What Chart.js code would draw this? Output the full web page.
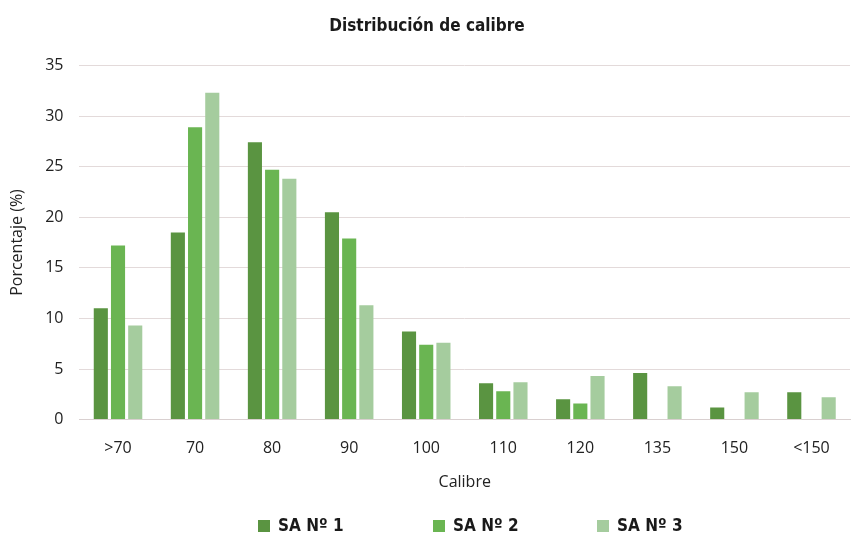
<!DOCTYPE html>
<html><head><meta charset="utf-8">
<script src="https://cdn.jsdelivr.net/npm/chart.js@4/dist/chart.umd.min.js"></script>
<style>html,body{margin:0;padding:0;background:#fff}#wrap{width:853px;height:538px;position:relative}
#leg{position:absolute;left:0;top:514px;width:853px;height:22px;font:bold 17px "DejaVu Sans Condensed","DejaVu Sans",sans-serif;color:#1a1a1a}
#leg span.it{position:absolute;top:0;white-space:nowrap;line-height:22px}
#leg span.bx{display:inline-block;width:12px;height:12px;margin-right:8px;vertical-align:-1px}
</style>
</head><body><div id="wrap"><canvas id="c" width="853" height="538"></canvas><div id="leg"></div></div>
<script>
const categories = ['>70','70','80','90','100','110','120','135','150','<150'];
const sa1 = [11.0, 18.5, 27.4, 20.5, 8.7, 3.6, 2.0, 4.6, 1.2, 2.7];
const sa2 = [17.2, 28.9, 24.7, 17.9, 7.4, 2.8, 1.6, 0, 0, 0];
const sa3 = [9.3, 32.3, 23.8, 11.3, 7.6, 3.7, 4.3, 3.3, 2.7, 2.2];
const seriesNames = ['SA Nº 1','SA Nº 2','SA Nº 3'];
const yTicks = [0,5,10,15,20,25,30,35];
const colors = ['#5a9441','#6ab552','#a5cc9e'];
const tickFont = {family:'"Open Sans", "Noto Sans", sans-serif', size:16};
const chart = new Chart(document.getElementById('c'), {
  type:'bar',
  data:{labels:categories, datasets:[
    {label:seriesNames[0], data:sa1, backgroundColor:colors[0]},
    {label:seriesNames[1], data:sa2, backgroundColor:colors[1]},
    {label:seriesNames[2], data:sa3, backgroundColor:colors[2]}
  ].map(d=>Object.assign(d,{categoryPercentage:0.67,barPercentage:0.82}))},
  options:{
    responsive:false, animation:false,
    layout:{padding:{left:4,right:3,top:0,bottom:46}},
    plugins:{
      title:{display:true,text:'Distribución de calibre',color:'#1a1a1a',
        font:{family:'"DejaVu Sans Condensed", "DejaVu Sans", sans-serif',size:17,weight:'bold'},
        padding:{top:16,bottom:29}},
      legend:{display:false},
      tooltip:{enabled:false}
    },
    scales:{
      x:{grid:{display:false},border:{color:'#d9d0d0'},
        ticks:{color:'#222',font:tickFont,padding:11},
        title:{display:true,text:'Calibre',color:'#222',font:tickFont,padding:{top:4,bottom:0}}},
      y:{min:0,max:35,afterBuildTicks:s=>{s.ticks=yTicks.map(v=>({value:v}));},
        grid:{color:'#e3dada',drawTicks:false},border:{display:false},
        ticks:{color:'#222',font:tickFont,padding:16},
        title:{display:true,text:'Porcentaje (%)',color:'#222',font:tickFont,padding:{bottom:2}}}
    }
  }
});
const legX = [258, 433, 597];
const leg = document.getElementById('leg');
seriesNames.forEach((n,i)=>{
  const s=document.createElement('span');s.className='it';s.style.left=legX[i]+'px';
  s.innerHTML='<span class="bx" style="background:'+colors[i]+'"></span>'+n;
  leg.appendChild(s);
});
</script></body></html>
